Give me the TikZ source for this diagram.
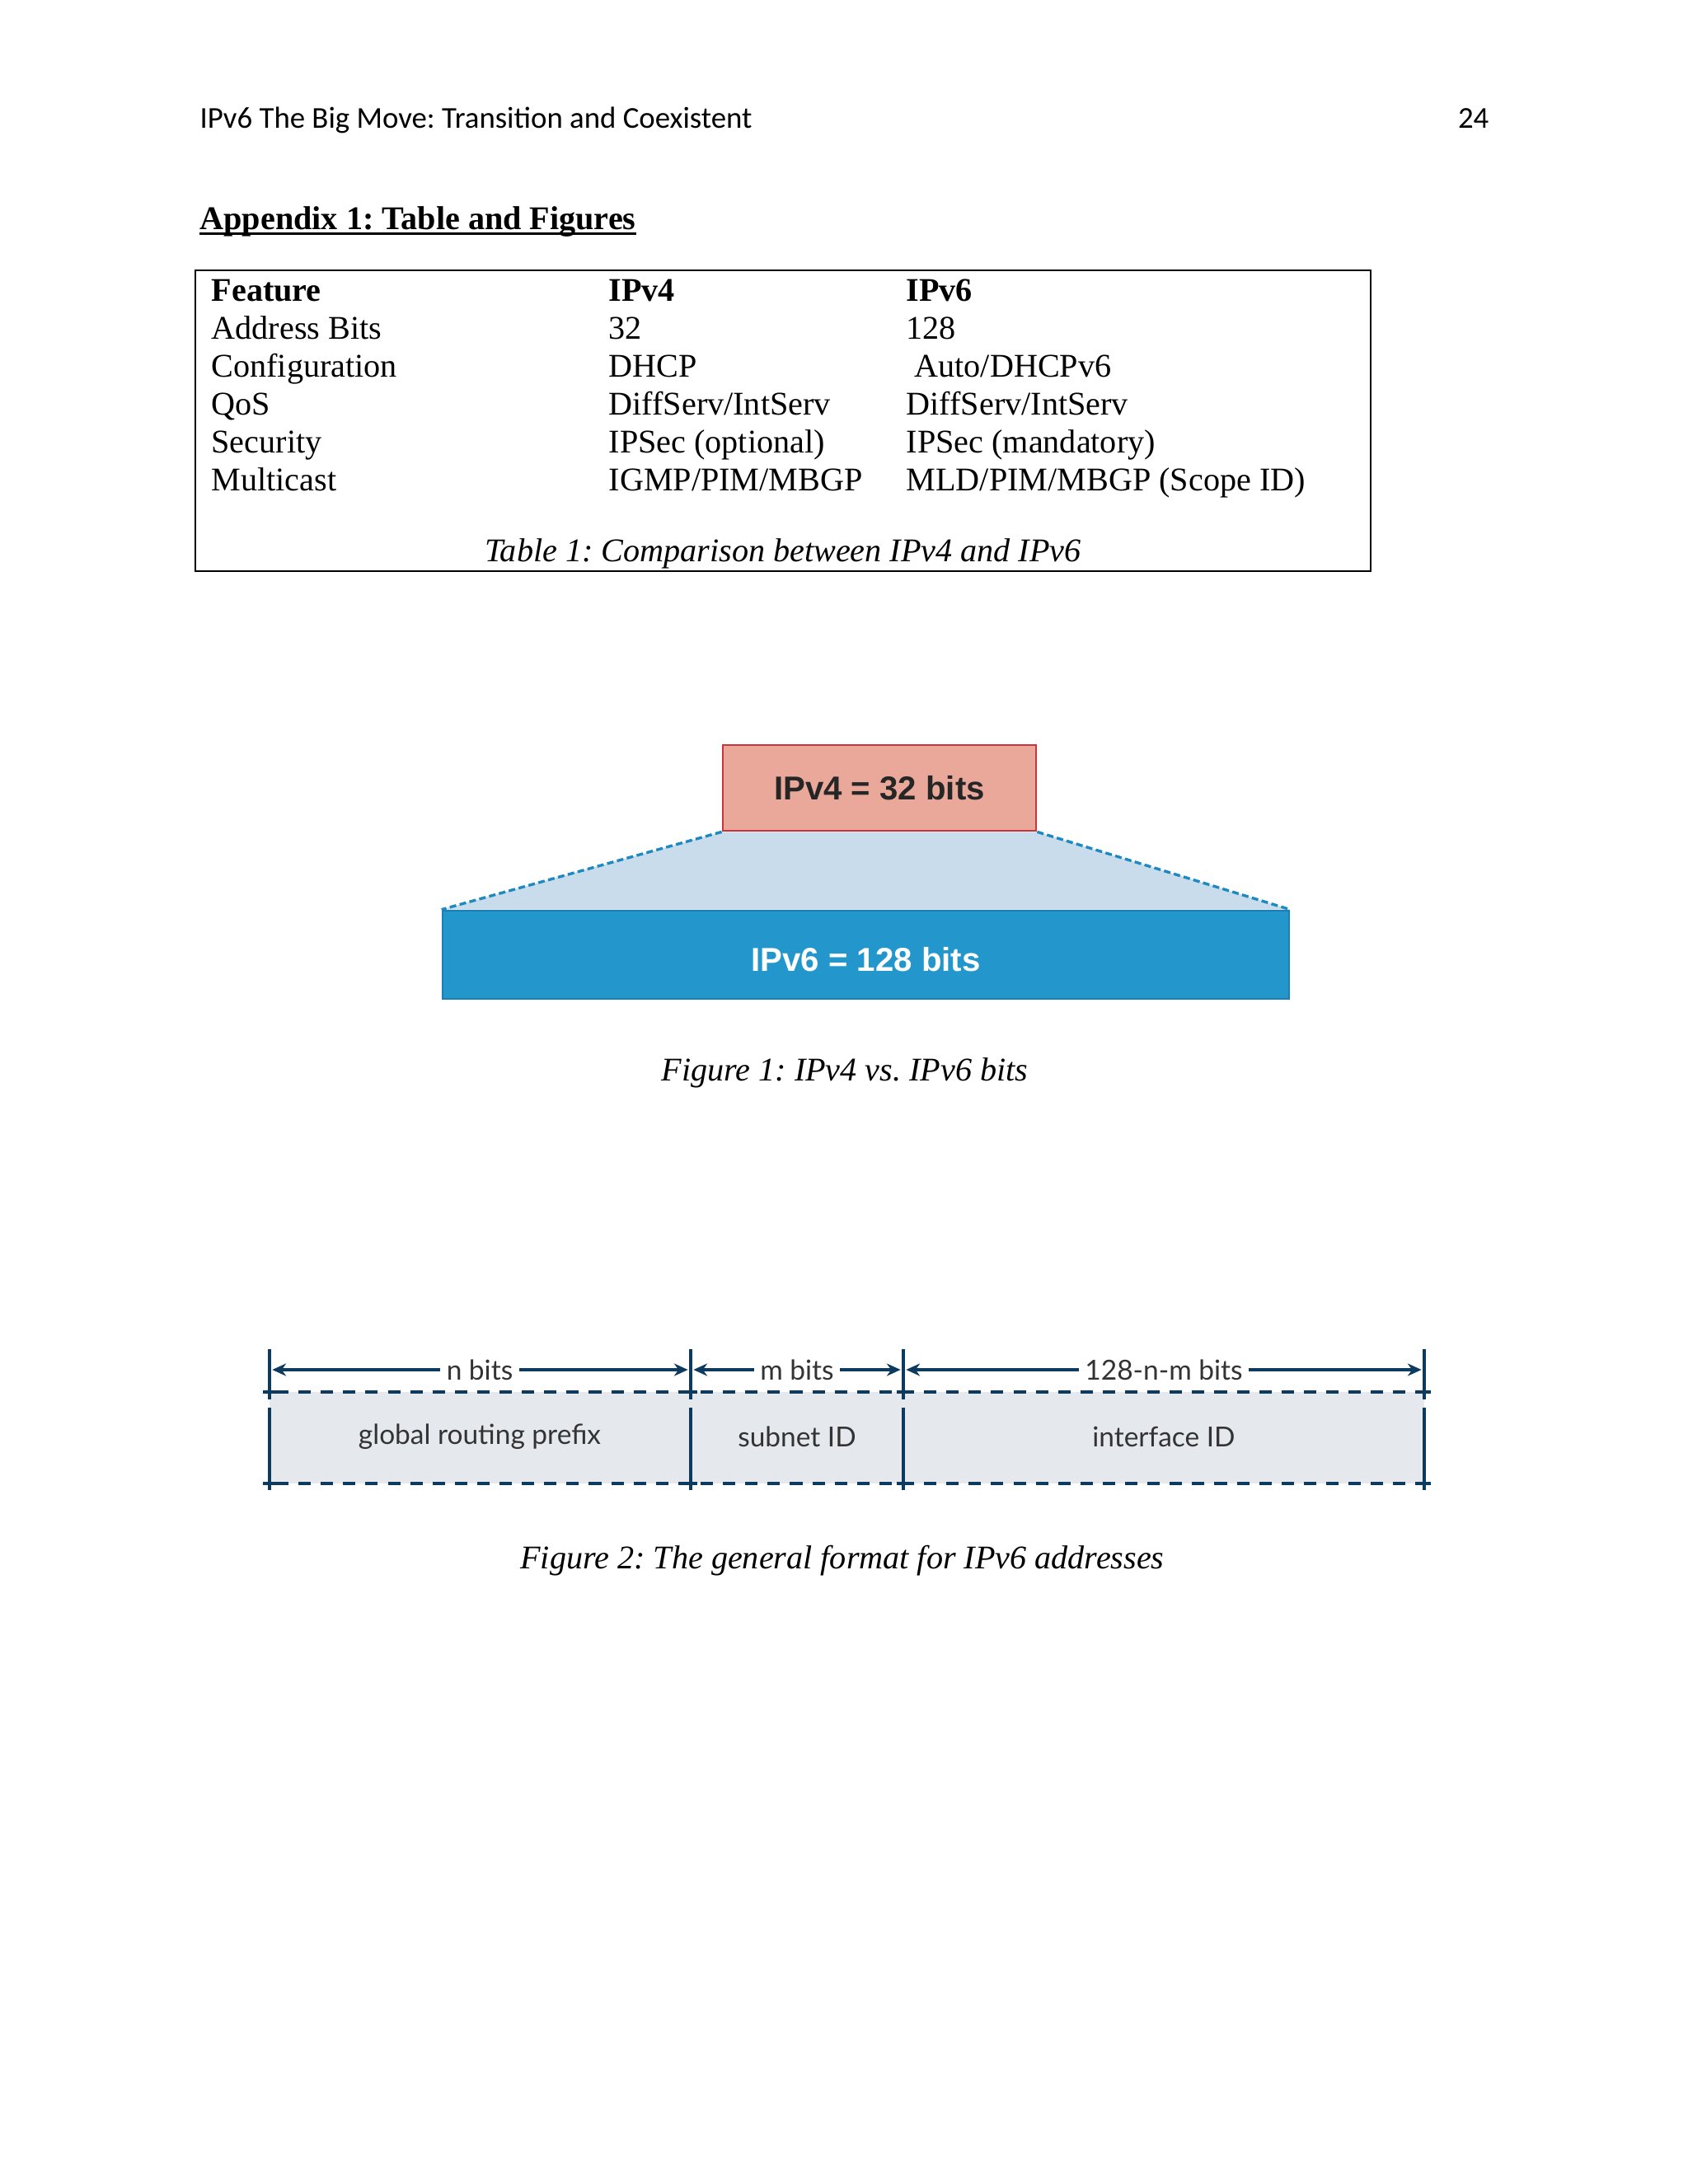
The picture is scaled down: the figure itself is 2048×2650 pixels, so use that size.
\documentclass[tikz,border=0pt]{standalone}
\usepackage{fontspec}
\setmainfont{Liberation Serif}
\newfontfamily\hdrfont{Carlito}
\newfontfamily\arialfont{Liberation Sans}
\newfontfamily\gillfont{Lato}
\usetikzlibrary{arrows.meta,backgrounds}
\frenchspacing
\definecolor{redfill}{HTML}{E9A899}
\definecolor{redline}{HTML}{C8363D}
\definecolor{trapfill}{HTML}{C8DCEC}
\definecolor{bluefill}{HTML}{2397CB}
\definecolor{blueline}{HTML}{1C7FB4}
\definecolor{dashblue}{HTML}{1E88C0}
\definecolor{navy}{HTML}{0D3B5F}
\definecolor{grayfill}{HTML}{E5E9EE}
\definecolor{labelgray}{HTML}{333333}
\tikzset{
  txt/.style={inner sep=0pt, anchor=base west, font=\fontsize{12}{14}\selectfont},
  txtb/.style={txt, font=\fontsize{12}{14}\selectfont\bfseries},
  captxt/.style={inner sep=0pt, anchor=base, font=\fontsize{12}{14}\selectfont\itshape},
  fieldlbl/.style={inner sep=0pt, text=labelgray, font=\gillfont\fontsize{10}{12}\selectfont},
  dimlbl/.style={inner sep=2pt, text=labelgray, font=\gillfont\fontsize{10}{12}\selectfont},
  dimarrow/.style={navy, line width=1.3pt, -{Stealth[length=5pt, width=4.5pt, inset=1.6pt]}, shorten >=1pt},
  vline/.style={navy, line width=1.45pt},
  dashline/.style={navy, line width=1.3pt, dash pattern=on 4.5pt off 3.6pt},
  trapdash/.style={dashblue, line width=1pt, dash pattern=on 2.4pt off 1.3pt},
}
\begin{document}
\begin{tikzpicture}[x=0.298828pt, y=-0.298828pt]
\useasboundingbox (0,0) rectangle (2048,2650);

% header
\node[inner sep=0pt, anchor=base west, font=\hdrfont\fontsize{11}{13}\selectfont] (hdr) at (242,155) {IPv6 The Big Move: Transition and Coexistent};
\node[inner sep=0pt, anchor=base east, font=\hdrfont\fontsize{11}{13}\selectfont] (pageno) at (1807,155) {24};

% heading
\node[txtb] (heading) at (242,278) {Appendix 1: Table and Figures};
\draw[line width=0.9pt] ([yshift=-1.6pt]heading.base west) -- ([yshift=-1.6pt]heading.base east);

% table
\draw[line width=0.6pt] (237,328) rectangle (1663,693);
\node[txtb] (f0) at (256,365) {Feature};
\node[txtb] (v40) at (738,365) {IPv4};
\node[txtb] (v60) at (1099,365) {IPv6};
\node[txt] (f1) at (256,411) {Address Bits};
\node[txt] (v41) at (738,411) {32};
\node[txt] (v61) at (1099,411) {128};
\node[txt] (f2) at (256,457) {Configuration};
\node[txt] (v42) at (738,457) {DHCP};
\node[txt] (v62) at (1109,457) {Auto/DHCPv6};
\node[txt] (f3) at (256,503) {QoS};
\node[txt] (v43) at (738,503) {DiffServ/IntServ};
\node[txt] (v63) at (1099,503) {DiffServ/IntServ};
\node[txt] (f4) at (256,549) {Security};
\node[txt] (v44) at (738,549) {IPSec (optional)};
\node[txt] (v64) at (1099,549) {IPSec (mandatory)};
\node[txt] (f5) at (256,595) {Multicast};
\node[txt] (v45) at (738,595) {IGMP/PIM/MBGP};
\node[txt] (v65) at (1099,595) {MLD/PIM/MBGP (Scope ID)};
\node[captxt] (tcap) at (950,681) {Table 1: Comparison between IPv4 and IPv6};

% figure 1
\node[draw=redline, fill=redfill, line width=0.8pt, minimum width=113.6pt, minimum height=31.1pt, inner sep=0pt,
      font=\arialfont\bfseries\fontsize{12}{14}\selectfont, text=black!85] (ipv4) at (1067,956) {IPv4 = 32 bits};
\node[draw=blueline, fill=bluefill, line width=0.8pt, minimum width=306.9pt, minimum height=32pt, inner sep=0pt,
      text height=11.7pt, text depth=0pt,
      font=\arialfont\bfseries\fontsize{12}{14}\selectfont, text=white] (ipv6) at (1050.5,1158.5) {IPv6 = 128 bits};
\begin{scope}[on background layer]
  \fill[trapfill] (ipv4.south west) -- (ipv4.south east) -- (ipv6.north east) -- (ipv6.north west) -- cycle;
\end{scope}
\draw[trapdash] (ipv4.south west) -- (ipv6.north west);
\draw[trapdash] (ipv4.south east) -- (ipv6.north east);
\node[captxt] (fcap1) at (1025,1311) {Figure 1: IPv4 vs. IPv6 bits};

% figure 2
\fill[grayfill] (327,1689) rectangle (1728,1800);
\foreach \i/\x in {1/327,2/838,3/1096,4/1728}{
  \coordinate (a\i) at (\x,1662);
  \draw[vline] (\x,1637) -- (\x,1698);
  \draw[vline] (\x,1708) -- (\x,1808);
  \draw[vline] (\x-8,1689) -- (\x+8,1689);
  \draw[vline] (\x-8,1800) -- (\x+8,1800);
}
\draw[dashline] (335,1689) -- (1720,1689);
\draw[dashline] (335,1800) -- (1720,1800);

\node[dimlbl] (nb) at (582,1662) {n bits};
\node[dimlbl] (mb) at (967,1662) {m bits};
\node[dimlbl] (rb) at (1412,1662) {128-n-m bits};
\draw[dimarrow] (nb.west) -- (a1);
\draw[dimarrow] (nb.east) -- (a2);
\draw[dimarrow] (mb.west) -- (a2);
\draw[dimarrow] (mb.east) -- (a3);
\draw[dimarrow] (rb.west) -- (a3);
\draw[dimarrow] (rb.east) -- (a4);

\node[fieldlbl] (grp) at (582,1743) {global routing prefix};
\node[fieldlbl] (sid) at (967,1743) {subnet ID};
\node[fieldlbl] (iid) at (1412,1743) {interface ID};

\node[captxt] (fcap2) at (1022,1903) {Figure 2: The general format for IPv6 addresses};
\end{tikzpicture}
\end{document}
